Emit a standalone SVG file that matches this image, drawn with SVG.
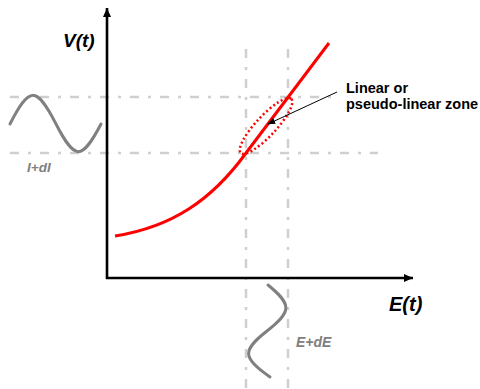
<svg xmlns="http://www.w3.org/2000/svg" width="480" height="389" viewBox="0 0 480 389">
<defs>
<style>
.grid{stroke:#cfcfcf;stroke-width:2.5;stroke-dasharray:9 9 3 9;fill:none}
.axis{stroke:#000;stroke-width:2.6;fill:none}
.wave{stroke:#808080;stroke-width:3;fill:none;stroke-linecap:round}
.lbl{font-family:"Liberation Sans",Arial,sans-serif;font-weight:bold;font-style:italic}
.note{font-family:"Liberation Sans",Arial,sans-serif;font-weight:bold;font-size:14.5px;fill:#000}
</style>
<marker id="ah" viewBox="0 0 10 10" refX="10" refY="5" markerWidth="9" markerHeight="8" markerUnits="userSpaceOnUse" orient="auto" preserveAspectRatio="none">
<path d="M0,0 L10,5 L0,10 Z" fill="#000"/>
</marker>
<marker id="ahs" viewBox="0 0 10 10" refX="9" refY="5" markerWidth="8" markerHeight="8" markerUnits="userSpaceOnUse" orient="auto">
<path d="M0,1 L10,5 L0,9 Z" fill="#000"/>
</marker>
</defs>
<rect width="480" height="389" fill="#fff"/>
<g id="grid">
<line class="grid" x1="10" y1="97" x2="335" y2="97"/>
<line class="grid" x1="10" y1="153" x2="378" y2="153"/>
<line class="grid" x1="246" y1="49" x2="246" y2="389"/>
<line class="grid" x1="288" y1="49" x2="288" y2="389"/>
</g>
<g id="axes">
<line class="axis" x1="107" y1="279" x2="107" y2="8" marker-end="url(#ah)"/>
<line class="axis" x1="106" y1="278" x2="413" y2="278" marker-end="url(#ah)"/>
</g>
<g id="curve">
<path d="M115,236 C172,227 212,200 246,153 L329,43" fill="none" stroke="#ff0000" stroke-width="3"/>
</g>
<g id="zone">
<ellipse cx="266" cy="126" rx="37" ry="10" transform="rotate(-47 266 126)" fill="none" stroke="#ff0000" stroke-width="2.5" stroke-dasharray="2 2.5"/>
</g>
<g id="connectors">
<line x1="337" y1="92" x2="268" y2="124" stroke="#000" stroke-width="1" marker-end="url(#ahs)"/>
</g>
<g id="input-wave">
<path class="wave" d="M10,124 C29.3,86 36.2,86 55.5,123 C74.8,161 81.7,161 101,124"/>
<text class="lbl" x="27" y="172" font-size="13.5" fill="#808080">I+dI</text>
</g>
<g id="output-wave">
<path class="wave" d="M268,285 C292,304.5 292,311.5 267,331 C242,350.5 242,357.5 270,377"/>
<text class="lbl" x="296" y="347" font-size="14" fill="#808080">E+dE</text>
</g>
<g id="labels">
<text class="lbl" x="63" y="47" font-size="19" fill="#000">V(t)</text>
<text class="lbl" x="389" y="311" font-size="20" fill="#000">E(t)</text>
<text class="note" x="346" y="93">Linear or</text>
<text class="note" x="346" y="109">pseudo-linear zone</text>
</g>
</svg>
